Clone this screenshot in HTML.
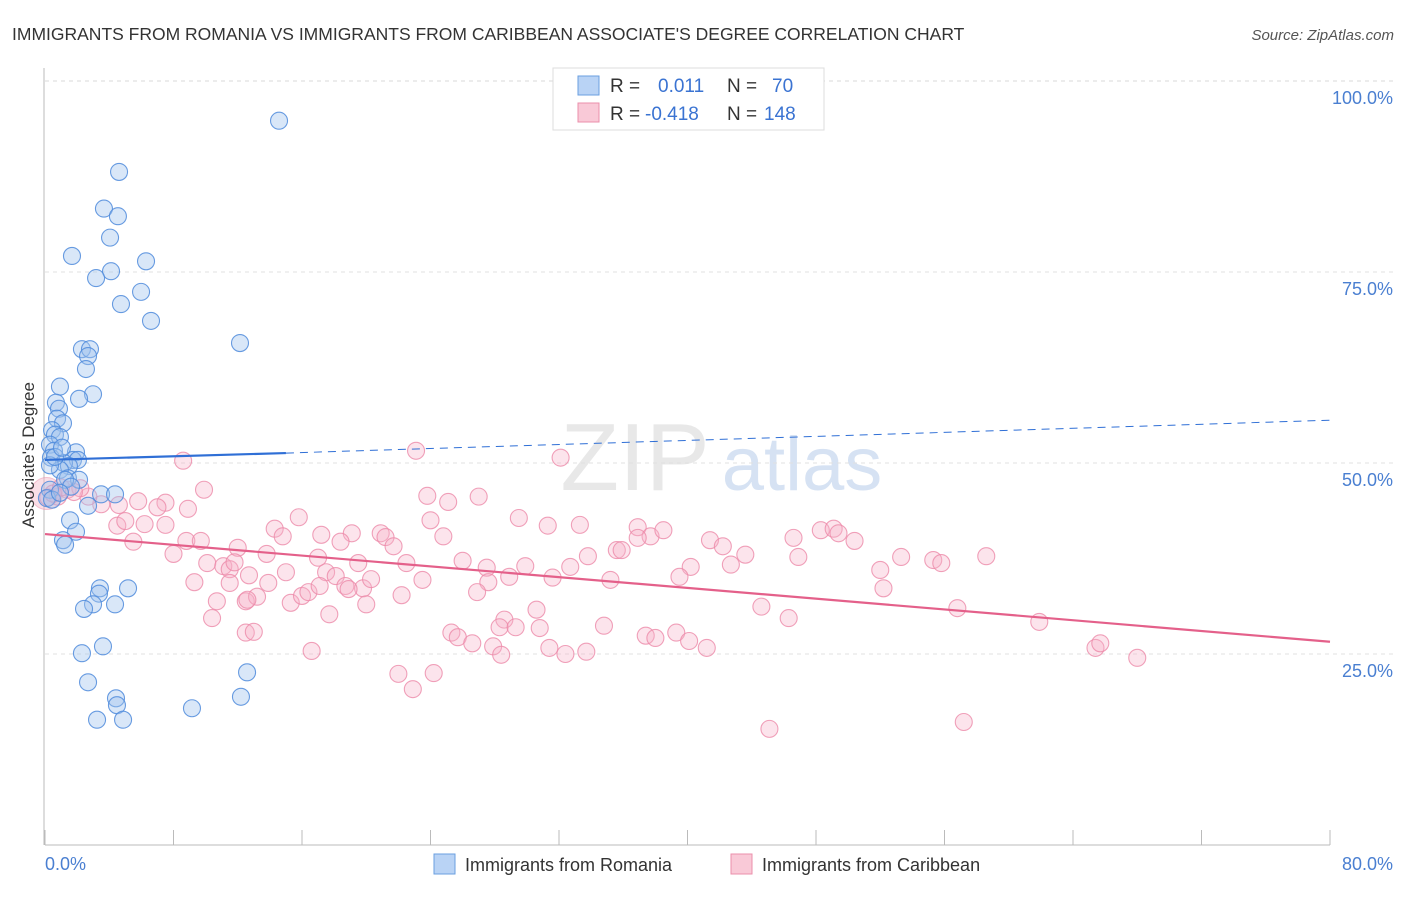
<!DOCTYPE html>
<html><head><meta charset="utf-8">
<style>
body{margin:0;background:#fff;font-family:"Liberation Sans",sans-serif;}
svg text{font-family:"Liberation Sans",sans-serif;}
</style></head>
<body>
<svg id="chart" width="1406" height="892" viewBox="0 0 1406 892" xmlns="http://www.w3.org/2000/svg">
<text x="12" y="40" font-size="17.5" fill="#333">IMMIGRANTS FROM ROMANIA VS IMMIGRANTS FROM CARIBBEAN ASSOCIATE'S DEGREE CORRELATION CHART</text>
<text x="1394" y="40" font-size="15" fill="#555" text-anchor="end" font-style="italic">Source: ZipAtlas.com</text>
<g>
<text x="635" y="490" font-size="96" fill="#d9d9d9" text-anchor="middle" font-family="Liberation Serif" opacity="0.6">ZIP</text>
<text x="802" y="490" font-size="76" fill="#c5d6ee" text-anchor="middle" opacity="0.7">atlas</text>
</g>
<g id="grid"></g>
<g id="axes"></g>
<g id="pts"></g>
<g id="trend"></g>
<text transform="translate(34,455) rotate(-90)" font-size="17" fill="#333" text-anchor="middle">Associate's Degree</text>
<g>
<rect x="553" y="68" width="271" height="62" fill="#fff" stroke="#ddd"/>
<rect x="578" y="76" width="21" height="19" fill="#b9d3f5" stroke="#6a9fe0"/>
<rect x="578" y="103" width="21" height="19" fill="#f9c9d7" stroke="#eb8fab"/>
<text x="610" y="92" font-size="19" fill="#333">R = </text>
<text x="658" y="92" font-size="19" fill="#3a73d2">0.011</text>
<text x="727" y="92" font-size="19" fill="#333">N = </text>
<text x="772" y="92" font-size="19" fill="#3a73d2">70</text>
<text x="610" y="120" font-size="19" fill="#333">R = </text>
<text x="645" y="120" font-size="19" fill="#3a73d2">-0.418</text>
<text x="727" y="120" font-size="19" fill="#333">N = </text>
<text x="764" y="120" font-size="19" fill="#3a73d2">148</text>
</g>
<g>
<rect x="434" y="854" width="21" height="20" fill="#b9d3f5" stroke="#6a9fe0"/>
<text x="465" y="871" font-size="18" fill="#333">Immigrants from Romania</text>
<rect x="731" y="854" width="21" height="20" fill="#f9c9d7" stroke="#eb8fab"/>
<text x="762" y="871" font-size="18" fill="#333">Immigrants from Caribbean</text>
</g>
</svg>
<script>
const romaniaX=[14.57,4.61,3.67,4.54,4.05,1.68,4.11,6.29,3.18,5.98,4.73,6.60,12.14,2.30,2.80,2.68,2.55,0.93,2.99,0.68,2.12,0.87,0.75,1.12,0.44,0.62,0.93,0.31,1.93,0.56,0.37,1.74,2.05,1.18,1.49,0.93,1.43,2.12,1.25,1.62,0.31,3.49,4.36,2.68,1.56,1.93,1.12,1.25,3.42,5.17,3.36,2.99,4.36,2.43,2.30,3.61,2.68,4.42,4.48,9.15,12.20,12.58,3.24,4.86,0.31,0.62,1.06,0.12,0.44,0.93];
const romaniaY=[94.8,88.1,83.3,82.3,79.5,77.1,75.1,76.4,74.2,72.4,70.8,68.6,65.7,64.9,64.9,64.0,62.3,60.0,59.0,57.9,58.4,57.1,55.8,55.2,54.3,53.7,53.4,52.4,51.4,51.6,50.7,50.4,50.4,50.0,49.6,49.1,48.0,47.8,47.8,46.9,46.5,45.9,45.9,44.4,42.5,41.0,39.9,39.3,33.6,33.6,32.9,31.5,31.5,30.9,25.1,26.0,21.3,19.2,18.3,17.9,19.4,22.6,16.4,16.4,49.7,50.8,52.0,45.4,45.2,46.1];
const caribX=[23.1,32.1,8.6,9.9,5.8,7.5,7.0,8.9,4.6,3.5,1.4,2.7,0.8,2.2,23.8,25.1,27.0,14.3,15.8,14.8,17.2,19.1,18.4,20.9,21.2,21.7,24.0,24.8,29.5,31.3,33.3,36.9,37.7,38.5,41.4,42.2,43.6,46.6,48.3,49.1,49.4,50.4,53.3,55.3,55.8,58.6,4.5,5.0,5.5,6.2,7.5,8.0,8.8,9.7,12.0,13.8,17.0,19.5,22.5,26.0,27.5,29.9,32.7,33.8,35.6,35.9,36.9,40.2,42.7,46.9,52.0,9.3,10.1,11.1,11.5,11.8,12.7,13.9,15.0,17.5,18.1,18.7,19.8,20.3,23.5,27.6,28.9,31.6,35.2,39.5,52.2,10.7,12.5,13.2,15.3,16.0,16.4,17.1,18.9,20.0,22.2,26.9,10.4,17.7,30.6,44.6,46.3,56.8,61.9,28.6,28.3,25.3,25.7,26.6,27.9,29.3,30.8,34.8,37.4,38.0,39.3,40.1,41.2,12.5,13.0,16.6,28.4,31.4,32.4,33.7,65.4,65.7,68.0,22.0,24.2,22.9,45.1,57.2,11.5,12.6,0.2,0.5,1.0,1.8];
const caribY=[51.6,50.7,50.3,46.5,45.0,44.8,44.2,44.0,44.5,44.6,46.5,45.6,45.6,46.7,45.7,44.9,45.6,41.4,42.9,40.4,40.6,40.8,39.7,40.8,40.3,39.1,42.5,40.4,42.8,41.8,41.9,41.6,40.4,41.2,39.9,39.1,38.0,40.2,41.2,41.4,40.8,39.8,37.7,37.3,36.9,37.8,41.8,42.4,39.7,42.0,41.9,38.1,39.8,39.8,38.9,38.1,37.6,36.9,36.9,37.2,36.3,36.5,36.4,37.8,38.6,38.6,40.2,36.4,36.7,37.7,36.0,34.4,36.9,36.5,36.1,37.0,35.3,34.3,35.7,35.7,35.2,33.9,33.6,34.8,34.7,34.4,35.1,35.0,34.7,35.1,33.6,31.9,31.9,32.5,31.7,32.6,33.1,33.9,33.5,31.5,32.7,33.1,29.7,30.2,30.8,31.2,29.7,31.0,29.2,29.5,28.5,27.8,27.2,26.4,26.0,28.5,28.4,28.7,27.4,27.1,27.8,26.7,25.8,27.8,27.9,25.4,24.9,25.8,25.0,25.3,25.8,26.4,24.5,22.4,22.5,20.4,15.2,16.1,34.3,32.1,45.5,46.0,46.8,46.2];
const xTicks=[0,8,16,24,32,40,48,56,64,72,80];
const yTicks=[25,50,75,100];
const yTickLabels=["25.0%","50.0%","75.0%","100.0%"];
const xTickLabels=["0.0%","80.0%"];
const romTrend=[50.4,51.3,55.6]; // at x=0, 15, 80
const romTrendX=[0,15,80];
const carTrend=[40.7,26.6]; // at x=0, 80
const carTrendX=[0,80];

const NS="http://www.w3.org/2000/svg";
const X=v=>45+v*(1285/80);
const Y=v=>845-v*7.64;
function mk(tag,attrs,parent){const e=document.createElementNS(NS,tag);for(const k in attrs)e.setAttribute(k,attrs[k]);parent.appendChild(e);return e;}
const grid=document.getElementById('grid'),axes=document.getElementById('axes'),pts=document.getElementById('pts'),trend=document.getElementById('trend');
mk('line',{x1:45,x2:1394,y1:Y(100),y2:Y(100),stroke:'#d8d8d8','stroke-dasharray':'4,4'},grid);
yTicks.forEach((t,i)=>{
  if(t<100){const g=mk('line',{x1:45,x2:1394,y1:Y(t),y2:Y(t),stroke:'#e0e0e0','stroke-dasharray':'4,4'},grid);
  
  }
  const tx=mk('text',{x:1393,y:Y(t)+23,'font-size':18,fill:'#4a7fd1','text-anchor':'end'},axes);
  tx.textContent=yTickLabels[i];
  
  
});
const ax=mk('line',{x1:45,x2:1330,y1:845,y2:845,stroke:'#bbb'},axes);


const ay=mk('line',{x1:44,x2:44,y1:68,y2:845,stroke:'#bbb'},axes);


xTicks.forEach(t=>{const l=mk('line',{x1:X(t),x2:X(t),y1:830,y2:845,stroke:'#bbb'},axes);

});
const xl0=mk('text',{x:45,y:870,'font-size':18,fill:'#4a7fd1'},axes);xl0.textContent=xTickLabels[0];


const xl1=mk('text',{x:1393,y:870,'font-size':18,fill:'#4a7fd1','text-anchor':'end'},axes);xl1.textContent=xTickLabels[1];


const big=mk('circle',{cx:X(0.1),cy:Y(46),r:16,fill:'#f4b8ca','fill-opacity':0.45,stroke:'#eb8fab','stroke-opacity':0.5},pts);


caribX.forEach((x,i)=>{const c=mk('circle',{cx:X(x),cy:Y(caribY[i]),r:8.5,fill:'#f6b3c8','fill-opacity':0.35,stroke:'#ec8aa9','stroke-opacity':0.8,'stroke-width':1.1},pts);

});
romaniaX.forEach((x,i)=>{const c=mk('circle',{cx:X(x),cy:Y(romaniaY[i]),r:8.5,fill:'#9fc2ee','fill-opacity':0.4,stroke:'#4f8bdc','stroke-opacity':0.85,'stroke-width':1.1},pts);

});
const t1=mk('line',{x1:X(romTrendX[0]),y1:Y(romTrend[0]),x2:X(romTrendX[1]),y2:Y(romTrend[1]),stroke:'#2f6fd6','stroke-width':2.2},trend);


const t2=mk('line',{x1:X(romTrendX[1]),y1:Y(romTrend[1]),x2:X(romTrendX[2]),y2:Y(romTrend[2]),stroke:'#2f6fd6','stroke-width':1,'stroke-dasharray':'8,6'},trend);


const t3=mk('line',{x1:X(carTrendX[0]),y1:Y(carTrend[0]),x2:X(carTrendX[1]),y2:Y(carTrend[1]),stroke:'#e4608a','stroke-width':2.2},trend);


</script>
</body></html>
